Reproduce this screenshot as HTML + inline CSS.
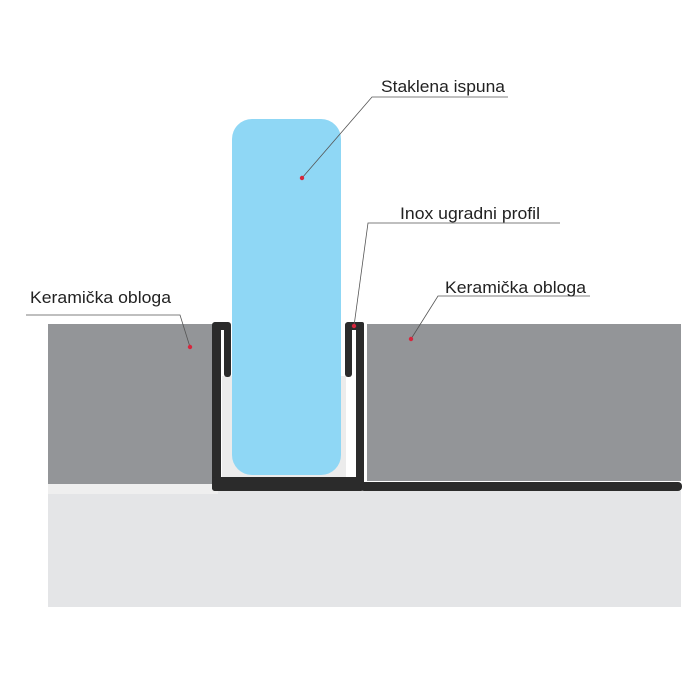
<!DOCTYPE html>
<html><head><style>body{margin:0;background:#fff}svg{display:block}</style></head>
<body>
<svg width="700" height="700" viewBox="0 0 700 700" xmlns="http://www.w3.org/2000/svg" font-family="Liberation Sans, sans-serif">
<rect x="48" y="491" width="633" height="116" fill="#e4e5e7"/>
<rect x="48" y="484" width="170" height="10" fill="#efefef"/>
<rect x="48" y="324" width="164" height="160" fill="#939598"/>
<rect x="367" y="324" width="314" height="157" fill="#939598"/>
<rect x="222" y="376" width="124" height="102" fill="#ececec"/>
<rect x="232" y="119" width="109" height="356" rx="20" fill="#8fd7f5"/>
<g fill="#2b2b2b">
<rect x="212" y="322" width="18" height="12" rx="4"/>
<rect x="212" y="322" width="9" height="169" rx="3"/>
<rect x="224" y="322" width="7" height="55" rx="3"/>
<rect x="345" y="322" width="19" height="12" rx="4"/>
<rect x="345" y="322" width="7" height="55" rx="3"/>
<rect x="356" y="322" width="8" height="165" rx="2"/>
<rect x="212" y="477" width="152" height="14" rx="3"/>
<rect x="360" y="482" width="322" height="9" rx="4"/>
</g>
<rect x="221" y="330" width="3" height="46" fill="#fff"/>
<rect x="352" y="330" width="4" height="46" fill="#fff"/>
<g stroke="#555" stroke-width="0.8" fill="none">
<polyline points="508,97 372,97 302,178"/>
<polyline points="560,223 368,223 354,326"/>
<polyline points="26,315 180,315 190,347"/>
<polyline points="590,296 438,296 411,339"/>
</g>
<g fill="#d7263d">
<circle cx="302" cy="178" r="2.2"/><circle cx="354" cy="326" r="2.2"/>
<circle cx="190" cy="347" r="2.2"/><circle cx="411" cy="339" r="2.2"/>
</g>
<g font-size="17" fill="#222">
<text x="381" y="92" textLength="124" lengthAdjust="spacingAndGlyphs">Staklena ispuna</text>
<text x="400" y="219" textLength="140" lengthAdjust="spacingAndGlyphs">Inox ugradni profil</text>
<text x="30" y="303" textLength="141" lengthAdjust="spacingAndGlyphs">Keramička obloga</text>
<text x="445" y="293" textLength="141" lengthAdjust="spacingAndGlyphs">Keramička obloga</text>
</g>
</svg>
</body></html>
